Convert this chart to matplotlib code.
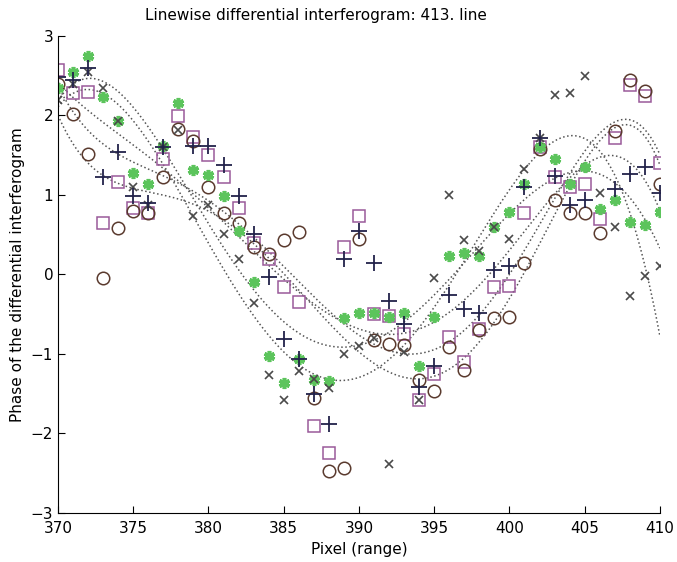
import numpy as np
import matplotlib.pyplot as plt

pixel = np.arange(370, 411)

plus = [2.48, 2.44, 2.60, 1.23, 1.54, 0.99, 0.90, 1.60, np.nan, 1.62,
        1.61, 1.37, 0.98, 0.51, -0.03, -0.81, -1.06, -1.50, -1.88, 0.20,
        0.55, 0.14, -0.33, -0.62, -1.42, -1.15, -0.26, -0.43, -0.48, 0.05,
        0.11, 1.10, 1.71, 1.24, 0.87, 0.93, np.nan, 1.08, 1.26, 1.35,
        1.02]
cross = [2.19, 2.39, 2.54, 2.34, 1.93, 1.10, 0.87, 1.60, 1.82, 0.74,
         0.87, 0.51, 0.20, -0.36, -1.27, -1.58, -1.21, -1.32, -1.43, -1.00,
         -0.90, -0.80, -2.38, -0.98, -1.58, -0.04, 1.00, 0.43, 0.29, 0.60,
         0.44, 1.33, 1.72, 2.25, 2.28, 2.49, 1.02, 0.60, -0.27, -0.02,
         0.11]
star = [2.34, 2.54, 2.75, 2.23, 1.93, 1.27, 1.14, 1.62, 2.15, 1.31,
        1.25, 0.99, 0.55, -0.10, -1.02, -1.36, -1.06, -1.33, -1.34, -0.55,
        -0.49, -0.49, -0.53, -0.49, -1.15, -0.54, 0.23, 0.27, 0.23, 0.60,
        0.78, 1.14, 1.60, 1.45, 1.14, 1.35, 0.82, 0.93, 0.66, 0.62,
        0.78]
circle = [2.40, 2.02, 1.52, -0.04, 0.59, 0.80, 0.77, 1.22, 1.83, 1.68,
          1.10, 0.77, 0.65, 0.34, 0.26, 0.43, 0.53, -1.55, -2.47, -2.43,
          0.45, -0.83, -0.87, -0.89, -1.33, -1.46, -0.91, -1.20, -0.70, -0.55,
          -0.54, 0.14, 1.58, 0.93, 0.77, 0.77, 0.52, 1.80, 2.45, 2.31,
          1.14]
square = [2.57, 2.28, 2.29, 0.65, 1.16, 0.83, 0.77, 1.45, 1.99, 1.73,
          1.50, 1.22, 0.84, 0.39, 0.20, -0.16, -0.35, -1.90, -2.24, 0.34,
          0.74, -0.50, -0.52, -0.75, -1.58, -1.25, -0.79, -1.10, -0.68, -0.16,
          -0.14, 0.77, 1.60, 1.22, 1.10, 1.14, 0.70, 1.72, 2.38, 2.24,
          1.40]

fig = plt.figure(figsize=(6.77, 5.62), dpi=100)
ax = fig.add_axes([0.0857, 0.0872, 0.889, 0.849])

# smooth fits drawn as dotted lines
xs = np.linspace(370, 410, 200)
for series in [plus, cross, star, circle, square]:
    y = np.array(series)
    ok = ~np.isnan(y)
    coef = np.polyfit(pixel[ok], y[ok], 5)
    ax.plot(xs, np.polyval(coef, xs), ':', color='#555555', lw=1.1)

ax.plot(pixel, square, 's', mfc='none', mec='#9a5a9a', ms=9, mew=1.1)
ax.plot(pixel, circle, 'o', mfc='none', mec='#5a3a2e', ms=9, mew=1.1)
ax.plot(pixel, star, marker=(6, 2, 0), ls='none', color='#5cc45c', ms=8, mew=2.6)
ax.plot(pixel, cross, 'x', color='#4a4a4a', ms=6, mew=1.2)
ax.plot(pixel, plus, '+', color='#22224a', ms=11, mew=1.3)

ax.set_xlim(370, 410)
ax.set_ylim(-3, 3)
ax.set_xticks(range(370, 411, 5))
ax.set_yticks(range(-3, 4))
ax.spines['top'].set_visible(False)
ax.spines['right'].set_visible(False)
ax.tick_params(direction='in', labelsize=11, length=5)
ax.tick_params(axis='x', pad=6)
ax.set_xlabel('Pixel (range)', fontsize=11)
ax.set_ylabel('Phase of the differential interferogram', fontsize=11)
fig.text(0.467, 0.973, 'Linewise differential interferogram: 413. line',
         ha='center', va='center', fontsize=11)

fig.savefig('out.png')
